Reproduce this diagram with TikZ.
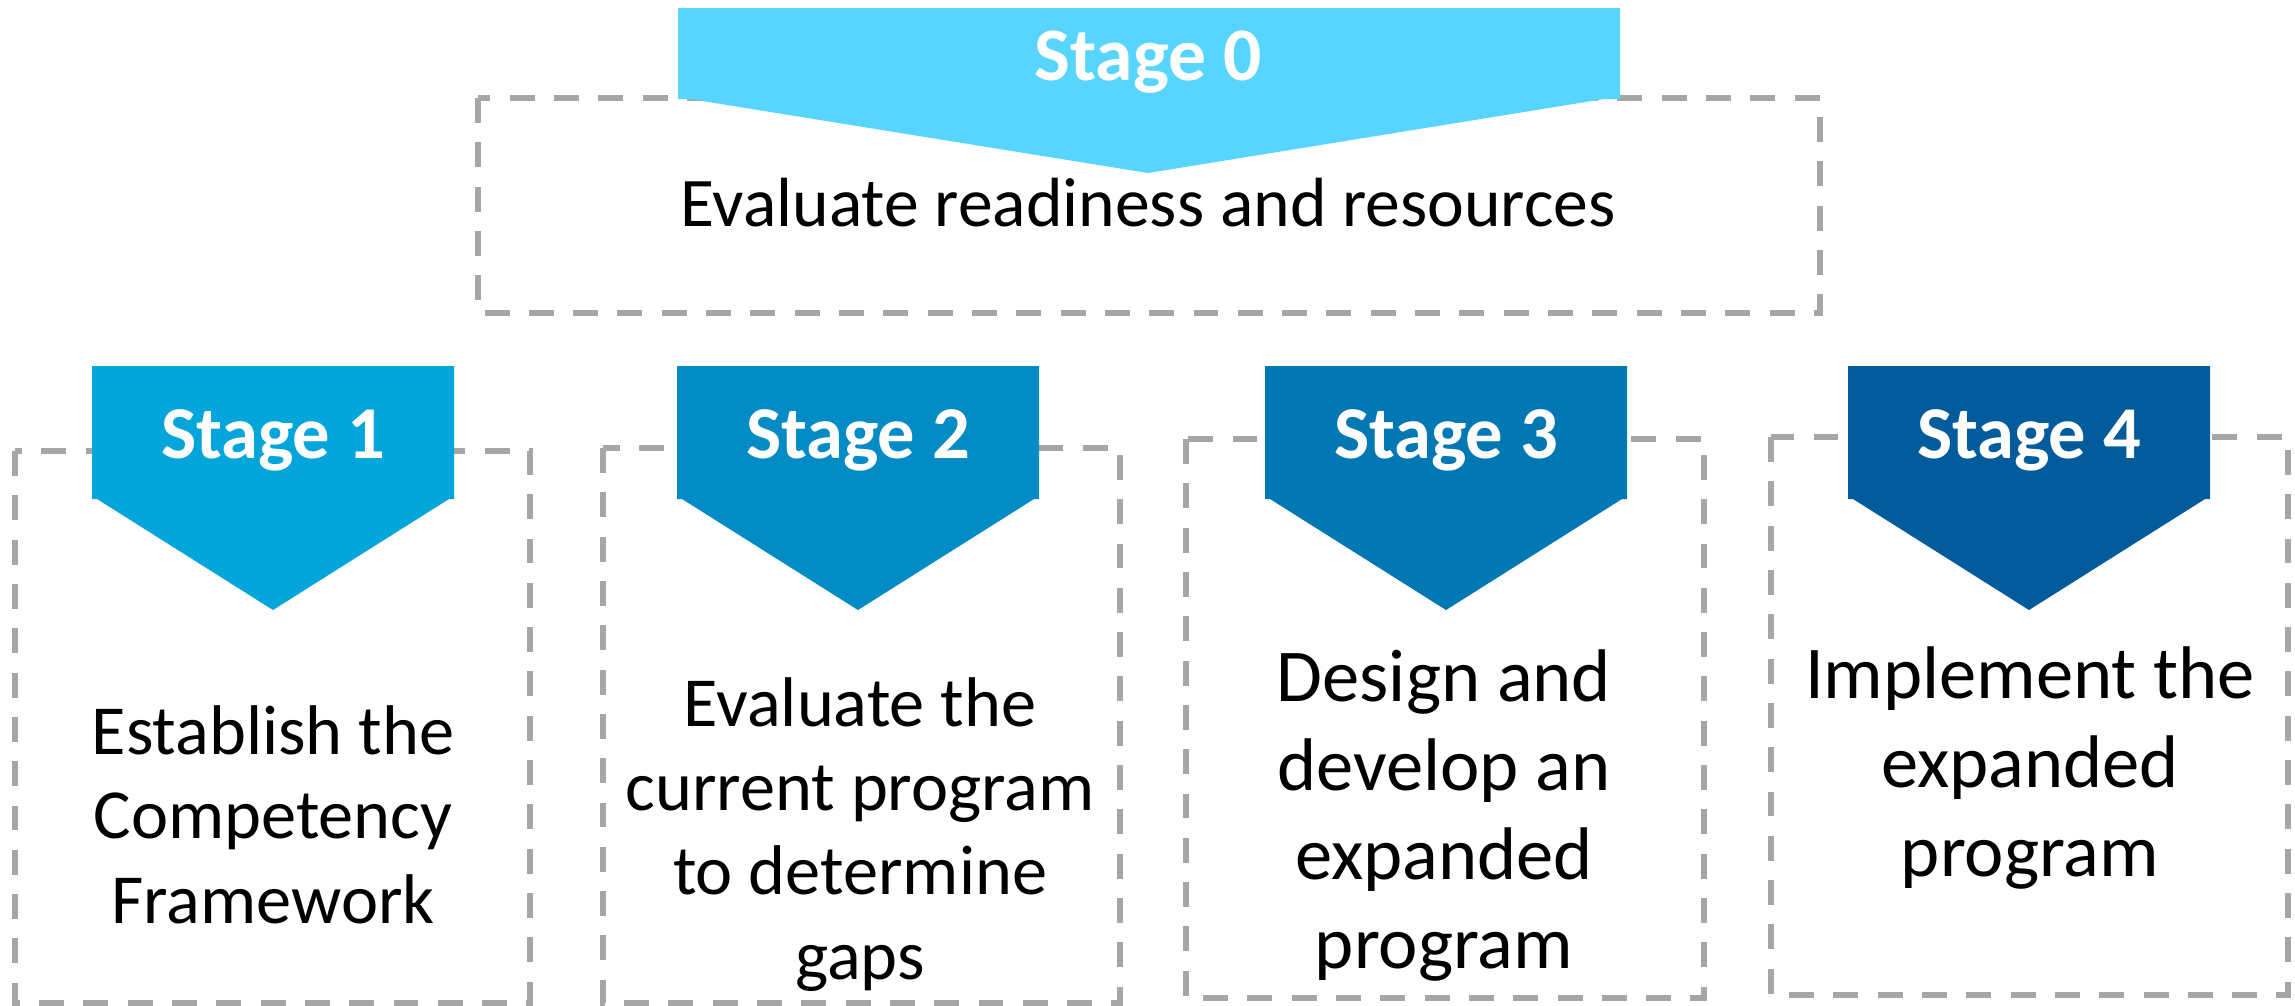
\documentclass[tikz,border=0pt]{standalone}
\usepackage{fontspec}
\setmainfont{Carlito}
\definecolor{dashgray}{HTML}{A6A6A6}
\definecolor{cZero}{HTML}{57D5FE}
\definecolor{cOne}{HTML}{04A5DA}
\definecolor{cTwo}{HTML}{028BC4}
\definecolor{cThree}{HTML}{0177B3}
\definecolor{cFour}{HTML}{025C9B}
\tikzset{
  dashbox/.style={draw=dashgray, line width=1.7pt, dash pattern=on 7.1pt off 5.5pt},
  stagelabel/.style={text=white, font=\bfseries\fontsize{21.2pt}{25pt}\selectfont, anchor=base, inner sep=0pt},
  bodysmall/.style={align=center, anchor=base, inner sep=0pt, font=\fontsize{20pt}{23.9pt}\selectfont},
  bodylarge/.style={align=center, anchor=base, inner sep=0pt, font=\fontsize{21.2pt}{25.3pt}\selectfont},
}
\newcommand{\banner}[6]{% left, right, top, rectbottom, tipy, colour
  \fill[#6] (#1,#3) -- (#2,#3) -- (#2,#4) -- ({#2-5},#4) -- ({(#1+#2)/2},#5) -- ({#1+5},#4) -- (#1,#4) -- cycle;}
\begin{document}
\begin{tikzpicture}[x=0.01cm,y=-0.01cm]
\path[use as bounding box, fill=white] (0,0) rectangle (2295,1005);
% dashed frames
\draw[dashbox] (478,98) rectangle (1820,313);
\draw[dashbox] (15,451) rectangle (530,1003);
\draw[dashbox] (603,448) rectangle (1120,1003);
\draw[dashbox] (1186,439) rectangle (1704,998);
\draw[dashbox] (1771,437) rectangle (2288,995);
% banners
\fill[cZero] (678,8) -- (1620,8) -- (1620,99) -- (1604,99) -- (1148,173) -- (690,99) -- (678,99) -- cycle;
\banner{92}{454}{366}{499}{610}{cOne}
\banner{677}{1039}{366}{499}{610}{cTwo}
\banner{1265}{1627}{366}{499}{610}{cThree}
\banner{1848}{2210}{366}{499}{610}{cFour}
% stage labels
\node[stagelabel, font=\bfseries\fontsize{21.5pt}{25pt}\selectfont] (s0) at (1148,80) {Stage 0};
\node[stagelabel] (s1) at (273,458) {Stage 1};
\node[stagelabel] (s2) at (858,458) {Stage 2};
\node[stagelabel] (s3) at (1446,458) {Stage 3};
\node[stagelabel] (s4) at (2029,458) {Stage 4};
% texts (base anchor = baseline of last line)
\node[anchor=base, inner sep=0pt, font=\fontsize{19.8pt}{23pt}\selectfont] (t0) at (1148,226) {Evaluate readiness and resources};
\node[bodysmall] (t1) at (273,923) {Establish the\\Competency\\Framework};
\node[bodysmall] (t2) at (860,979) {Evaluate the\\current program\\to determine\\gaps};
\node[bodylarge] (t3) at (1444,968) {Design and\\develop an\\expanded\\program};
\node[bodylarge] (t4) at (2030,876) {Implement the\\expanded\\program};
\end{tikzpicture}
\end{document}
